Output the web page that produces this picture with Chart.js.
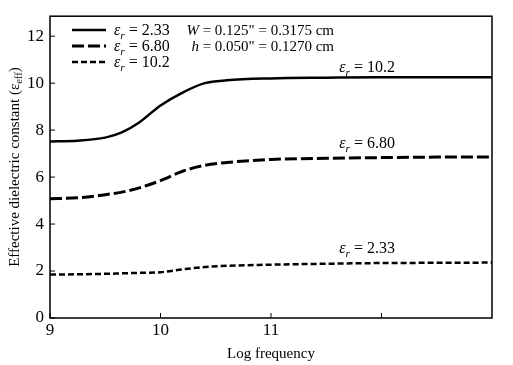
<!DOCTYPE html>
<html>
<head>
<meta charset="utf-8">
<script src="https://cdn.jsdelivr.net/npm/chart.js@4.4.0/dist/chart.umd.min.js"></script>
<style>
  html, body { margin: 0; padding: 0; background: #fff; }
  #wrap { width: 513px; height: 365px; }
</style>
</head>
<body>
<div id="wrap"><canvas id="c" width="513" height="365"></canvas></div>
<script>
// data
const logFreq = [9, 9.25, 9.5, 9.65, 9.8, 10, 10.2, 10.4, 10.6, 11, 11.5, 12, 12.5, 13];
const effHigh = [7.52, 7.55, 7.68, 7.9, 8.3, 9.05, 9.6, 10.0, 10.12, 10.2, 10.23, 10.25, 10.25, 10.25];
const effMid = [5.08, 5.12, 5.25, 5.36, 5.53, 5.85, 6.25, 6.5, 6.62, 6.75, 6.8, 6.83, 6.85, 6.85];
const effLow = [1.85, 1.86, 1.88, 1.9, 1.92, 1.95, 2.07, 2.17, 2.22, 2.27, 2.31, 2.34, 2.35, 2.36];

const legendValues = ['2.33', '6.80', '10.2'];   // as printed in the legend box
const curveLabels = ['10.2', '6.80', '2.33'];    // labels next to the curves
const curveLabelPos = [[11.87, 10.48], [11.87, 7.22], [11.87, 2.76]];
const xTickValues = [9, 10, 11, 12];
const xTickLabels = ['9', '10', '11', ''];
const yTickValues = [0, 2, 4, 6, 8, 10, 12];

const SERIF = '"Liberation Serif", "Times New Roman", serif';

function toPoints(ys) {
  return logFreq.map((x, i) => ({ x: x, y: ys[i] }));
}

// draws text pieces, with italic / subscript parts
function rich(ctx, parts, x, y, size, align) {
  const fontOf = (p) => {
    const s = p[1] === 's' || p[1] === 'si' ? size * 0.7 : size;
    const it = p[1] === 'i' || p[1] === 'si' ? 'italic ' : '';
    return it + s + 'px ' + SERIF;
  };
  let w = 0;
  parts.forEach(p => { ctx.font = fontOf(p); w += ctx.measureText(p[0]).width; });
  let cx = align === 'center' ? x - w / 2 : align === 'right' ? x - w : x;
  parts.forEach(p => {
    ctx.font = fontOf(p);
    const dy = (p[1] === 's' || p[1] === 'si') ? size * 0.25 : 0;
    ctx.fillText(p[0], cx, y + dy);
    cx += ctx.measureText(p[0]).width;
  });
}

const eps = (v) => [['ε', 'i'], ['r', 'si'], [' = ' + v, '']];

const decor = {
  id: 'decor',
  afterDraw(chart) {
    const ctx = chart.ctx;
    const a = chart.chartArea;
    const xs = chart.scales.x, ys = chart.scales.y;
    ctx.save();
    ctx.fillStyle = '#000';
    ctx.strokeStyle = '#000';

    // frame
    ctx.lineWidth = 1.5;
    ctx.setLineDash([]);
    ctx.strokeRect(a.left, a.top, a.right - a.left, a.bottom - a.top);

    // inward ticks
    ctx.lineWidth = 1;
    xTickValues.forEach(v => {
      const px = xs.getPixelForValue(v);
      ctx.beginPath(); ctx.moveTo(px, a.bottom); ctx.lineTo(px, a.bottom - 5); ctx.stroke();
    });
    yTickValues.forEach(v => {
      const py = ys.getPixelForValue(v);
      ctx.beginPath(); ctx.moveTo(a.left, py); ctx.lineTo(a.left + 5, py); ctx.stroke();
    });

    // legend
    ctx.textBaseline = 'alphabetic';
    ctx.textAlign = 'left';
    const rows = [30, 46, 62];
    chart.data.datasets.forEach((ds, i) => {
      ctx.lineWidth = ds.borderWidth;
      ctx.setLineDash(ds.borderDash || []);
      ctx.beginPath(); ctx.moveTo(72, rows[i]); ctx.lineTo(106, rows[i]); ctx.stroke();
      ctx.setLineDash([]);
      rich(ctx, eps(legendValues[i]), 114, rows[i] + 5, 16, 'left');
    });
    rich(ctx, [['W', 'i'], [' = 0.125" = 0.3175 cm', '']], 334, 35, 15, 'right');
    rich(ctx, [['h', 'i'], [' = 0.050" = 0.1270 cm', '']], 334, 51, 15, 'right');

    // curve labels
    curveLabels.forEach((t, i) => {
      const p = curveLabelPos[i];
      rich(ctx, eps(t), xs.getPixelForValue(p[0]), ys.getPixelForValue(p[1]), 16, 'center');
    });

    // y axis title
    ctx.translate(15, (a.top + a.bottom) / 2);
    ctx.rotate(-Math.PI / 2);
    ctx.textBaseline = 'middle';
    rich(ctx, [['Effective dielectric constant (ε', ''], ['eff', 's'], [')', '']], 0, 0, 15, 'center');
    ctx.restore();
  }
};

new Chart(document.getElementById('c').getContext('2d'), {
  type: 'line',
  data: {
    datasets: [
      { label: 'εr = 10.2', data: toPoints(effHigh), borderColor: '#000', borderWidth: 2.5, borderDash: [] },
      { label: 'εr = 6.80', data: toPoints(effMid), borderColor: '#000', borderWidth: 3, borderDash: [12, 4] },
      { label: 'εr = 2.33', data: toPoints(effLow), borderColor: '#000', borderWidth: 2.5, borderDash: [6, 3] }
    ]
  },
  options: {
    responsive: false,
    animation: false,
    layout: { padding: { top: 13, right: 21, left: 0, bottom: 0 } },
    elements: {
      point: { radius: 0 },
      line: { cubicInterpolationMode: 'monotone', fill: false }
    },
    plugins: { legend: { display: false }, tooltip: { enabled: false } },
    scales: {
      x: {
        type: 'linear', min: 9, max: 13,
        afterBuildTicks: s => { s.ticks = xTickValues.map(v => ({ value: v })); },
        afterFit: s => { s.height = 47; },
        grid: { display: false, drawTicks: false },
        border: { display: false },
        ticks: {
          color: '#000', padding: 2, maxRotation: 0,
          font: { family: SERIF, size: 17 },
          callback: v => xTickLabels[xTickValues.indexOf(v)]
        },
        title: {
          display: true, text: 'Log frequency', color: '#000',
          font: { family: SERIF, size: 15 }, padding: { top: 0, bottom: 2 }
        }
      },
      y: {
        type: 'linear', min: 0, max: 12.85,
        afterBuildTicks: s => { s.ticks = yTickValues.map(v => ({ value: v })); },
        afterFit: s => { s.width = 50; },
        grid: { display: false, drawTicks: false },
        border: { display: false },
        ticks: { color: '#000', padding: 6, font: { family: SERIF, size: 17 } }
      }
    }
  },
  plugins: [decor]
});
</script>
</body>
</html>
